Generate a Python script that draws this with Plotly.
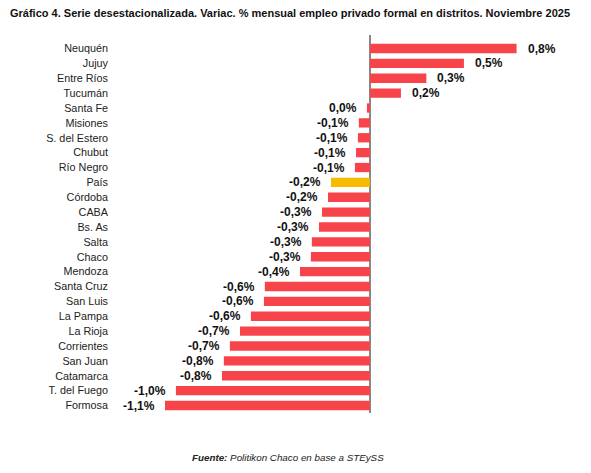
import plotly.graph_objects as go

# datos (variación % mensual, serie desestacionalizada)
distritos = ["Neuquén", "Jujuy", "Entre Ríos", "Tucumán", "Santa Fe", "Misiones",
             "S. del Estero", "Chubut", "Río Negro", "País", "Córdoba", "CABA",
             "Bs. As", "Salta", "Chaco", "Mendoza", "Santa Cruz", "San Luis",
             "La Pampa", "La Rioja", "Corrientes", "San Juan", "Catamarca",
             "T. del Fuego", "Formosa"]
variacion = [0.78, 0.50, 0.30, 0.165, -0.016, -0.059, -0.064, -0.074, -0.08,
             -0.207, -0.223, -0.255, -0.271, -0.309, -0.314, -0.372, -0.559,
             -0.564, -0.633, -0.691, -0.745, -0.777, -0.787, -1.032, -1.09]
etiquetas = ["0,8%", "0,5%", "0,3%", "0,2%", "0,0%", "-0,1%", "-0,1%", "-0,1%",
             "-0,1%", "-0,2%", "-0,2%", "-0,3%", "-0,3%", "-0,3%", "-0,3%",
             "-0,4%", "-0,6%", "-0,6%", "-0,6%", "-0,7%", "-0,7%", "-0,8%",
             "-0,8%", "-1,0%", "-1,1%"]

ROJO = "#f7444a"
AMARILLO = "#f6bb00"
colores = [AMARILLO if d == "País" else ROJO for d in distritos]

fig = go.Figure()

fig.add_trace(go.Bar(
    y=distritos,
    x=variacion,
    orientation="h",
    marker=dict(color=colores, line=dict(width=0)),
    hoverinfo="x+y",
))

# etiquetas de valor al final de cada barra
anotaciones = []
for d, v, t in zip(distritos, variacion, etiquetas):
    anotaciones.append(dict(
        x=v, y=d, xref="x", yref="y",
        text="<b>" + t + "</b>",
        showarrow=False,
        xanchor="left" if v > 0 else "right",
        xshift=9 if v > 0 else -8,
        font=dict(family="Liberation Sans, Arial, sans-serif", size=12, color="#111111"),
    ))

anotaciones.append(dict(
    text="<b><i>Fuente:</i></b><i> Politikon Chaco en base a STEySS</i>",
    xref="paper", yref="paper", x=0.388, y=-0.119, xanchor="center", yanchor="middle",
    showarrow=False,
    font=dict(family="Liberation Sans, Arial, sans-serif", size=9.8, color="#222222"),
))

fig.update_layout(
    width=591,
    height=473,
    paper_bgcolor="white",
    plot_bgcolor="white",
    margin=dict(l=107, r=39, t=27, b=68, autoexpand=False),
    bargap=0.375,
    showlegend=False,
    title=dict(
        text="<b>Gráfico 4. Serie desestacionalizada. Variac. % mensual empleo privado formal en distritos. Noviembre 2025</b>",
        x=0.0034, xanchor="left", y=0.9895, yanchor="middle",
        font=dict(family="Liberation Sans, Arial, sans-serif", size=11, color="#111111"),
    ),
    annotations=anotaciones,
)

fig.update_xaxes(
    range=[-1.356, 1.011],
    showgrid=False,
    showticklabels=False,
    zeroline=True,
    zerolinecolor="#888888",
    zerolinewidth=1.5,
)
fig.update_yaxes(
    categoryorder="array",
    categoryarray=distritos,
    range=[len(distritos) - 1 + 0.504, -0.908],
    showgrid=False,
    ticks="",
    ticklabelstandoff=6,
    tickfont=dict(family="Liberation Sans, Arial, sans-serif", size=10.8, color="#222222"),
)

fig.write_html("out.html")
